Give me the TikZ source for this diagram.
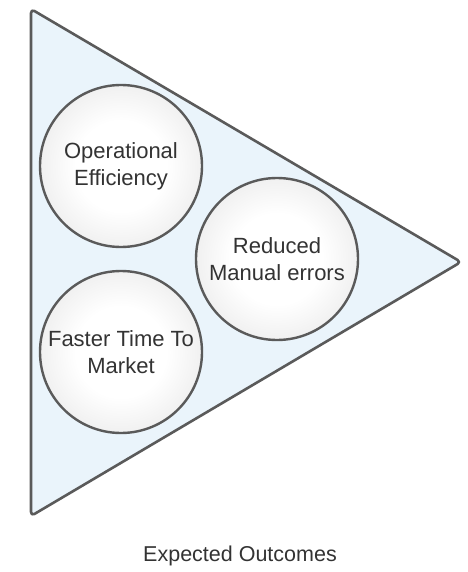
\documentclass[tikz,border=0pt]{standalone}
\usepackage{fontspec}
\setmainfont{Liberation Sans}
\definecolor{linegray}{HTML}{5A5A5A}
\definecolor{triblue}{HTML}{EAF4FB}
\definecolor{ballgray}{HTML}{CFCFCF}
\definecolor{textgray}{HTML}{333333}
\pgfdeclareradialshading{ballshade}{\pgfpoint{0bp}{0bp}}{color(0bp)=(white); color(14bp)=(white); color(50bp)=(ballgray); color(100bp)=(ballgray)}
\begin{document}
\begin{tikzpicture}[x=1pt,y=-1pt,
  tri/.style={draw=linegray, line width=2.6pt, fill=triblue, rounded corners=4pt, line join=round},
  ball/.style={circle, draw=linegray, line width=2.4pt, minimum size=162pt, inner sep=0pt,
     shading=ballshade, align=center,
     text=textgray, font=\fontsize{22}{27}\selectfont},
  caption/.style={text=textgray, font=\fontsize{21.5}{25}\selectfont}]
\useasboundingbox (0,0) rectangle (467,572);
\coordinate (tl) at (31,9);
\coordinate (bl) at (31,516);
\coordinate (tip) at (461,262);
\draw[tri] (tl) -- (tip) -- (bl) -- cycle;
\node[ball] (ops) at (121,166) {Operational\\Efficiency};
\node[ball] (red) at (277,259) {Reduced\\Manual errors};
\node[ball] (fast) at (121,352) {Faster Time To\\Market};
\node[caption] (cap) at (240,556) {Expected Outcomes};
\end{tikzpicture}
\end{document}
